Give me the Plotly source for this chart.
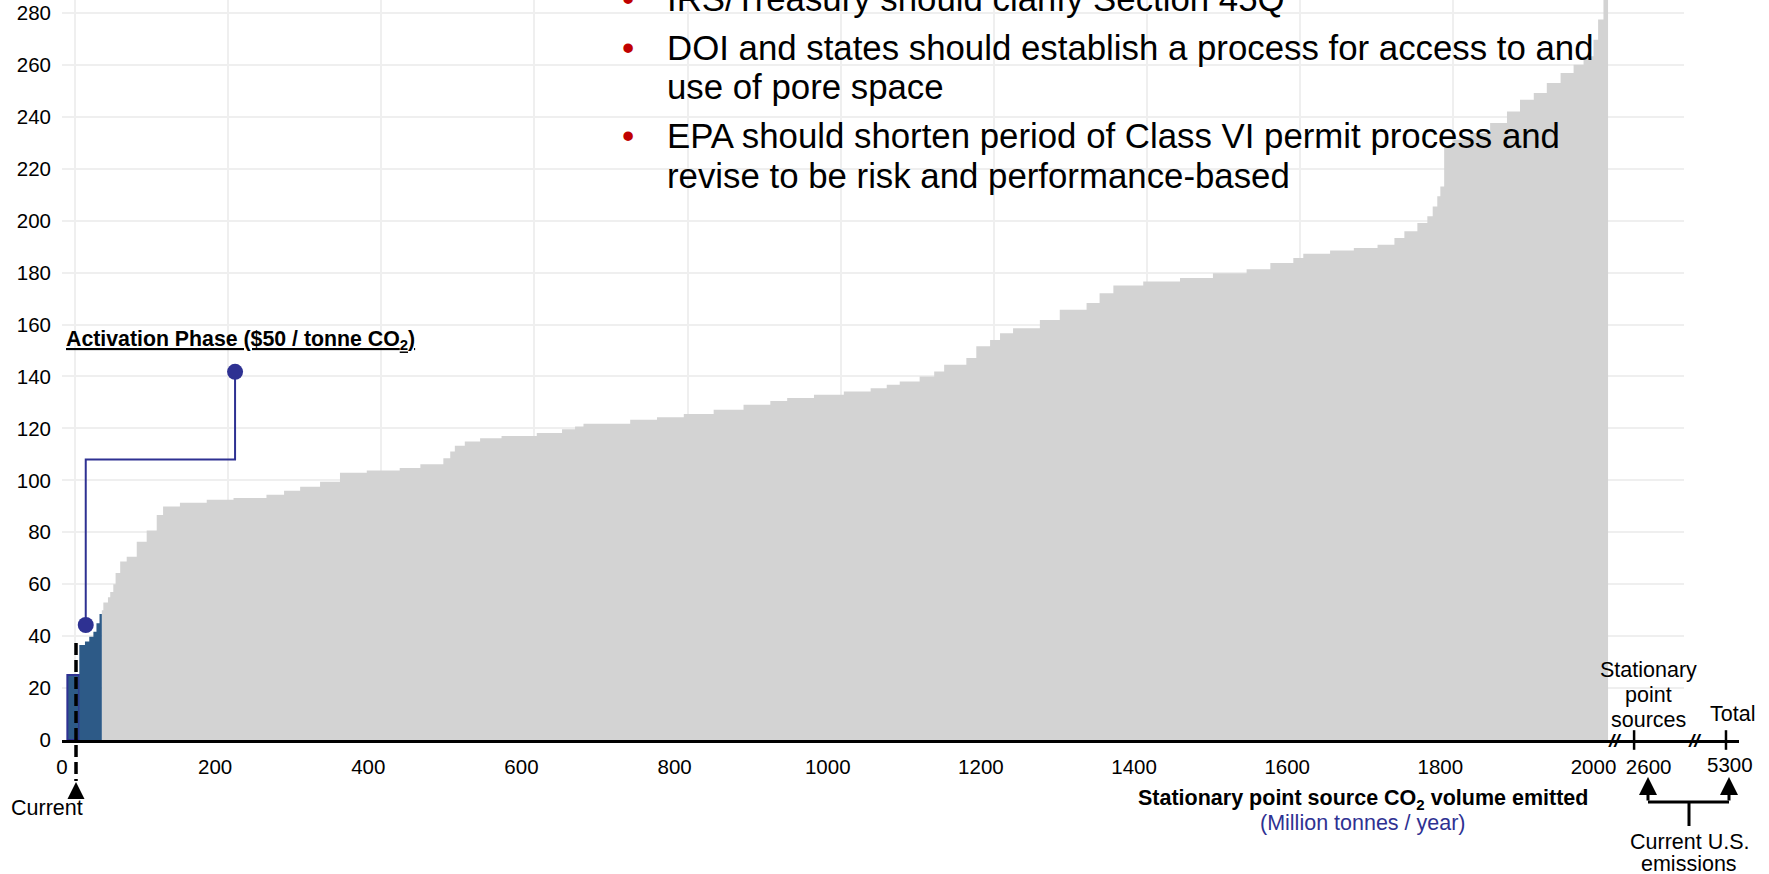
import numpy as np
import plotly.graph_objects as go

# ---------------- data ----------------
# y axis ($ / tonne CO2)
y_tick_vals = [0, 20, 40, 60, 80, 100, 120, 140, 160, 180, 200, 220, 240, 260, 280]

# x axis labels (Mt / yr); 2600 and 5300 sit on the broken, compressed end of the axis
x_tick_text = ["0", "200", "400", "600", "800", "1000", "1200", "1400", "1600", "1800", "2000", "2600"]
x_tick_vals = [0, 200, 400, 600, 800, 1000, 1200, 1400, 1600, 1800, 2000, 2072]
x_end_tick_text = ["5300"]
x_end_tick_vals = [2178]
x_grid_vals = [17, 217, 417, 617, 817, 1017, 1217, 1417, 1617, 1817, 2017]
break_marks_x = [2027, 2132]
break_ticks_x = [2053, 2173]

# cost curve: first source starts at this cumulative volume
curve_start = 7
# activation-phase sources (blue)
blue_volume = [15.6, 7.4, 5.6, 5.4, 4.0, 4.0, 3.0]
blue_cost = [25, 36.6, 37.9, 39.8, 41.7, 45, 48.5]
# remaining stationary point sources (grey)
gray_volume = [2, 6, 3, 4, 3, 6, 8.5, 13.1, 13, 13.1,
               8.3, 22, 35, 35, 43, 23, 21, 26, 26, 35,
               43, 27, 30, 9, 6, 13, 20, 28, 46, 33,
               17, 11, 61, 35, 35, 39, 39, 35, 22, 35,
               39, 35, 21, 17, 26, 19, 13, 29, 13, 18,
               13, 17, 35, 26, 35, 17, 18, 39, 48, 43,
               44, 31, 30, 13, 35, 31, 31, 22, 13, 17,
               13, 7, 6, 4, 5, 12, 22, 26, 22, 17,
               18, 17, 18, 17, 13, 13, 6, 7, 6]
gray_cost = [50, 53, 55, 57, 60, 64.3, 68.7, 70.6, 76.4, 80.7,
             86.7, 89.9, 91.4, 92.5, 93.2, 94.5, 96, 97.5, 99.5, 102.9,
             103.8, 104.8, 106.2, 108.5, 111.1, 113.3, 115, 116.2, 117.1, 118.2,
             119.7, 120.7, 121.8, 123.3, 124.3, 125.6, 127.2, 129.1, 130.6, 131.7,
             133, 134.2, 135.5, 136.8, 138.1, 140, 141.9, 144.5, 147.1, 151.6,
             154.1, 156.7, 158.6, 161.8, 165.7, 168.3, 172.1, 175, 176.6, 177.9,
             179.8, 181.3, 183.7, 185.6, 187.3, 188.5, 189.5, 190.7, 193.3, 195.9,
             199.1, 201.7, 205.5, 209.4, 213.2, 228.6, 231.2, 233.8, 237.6, 242.1,
             246.6, 249.2, 253, 256.9, 260.1, 263.3, 269.7, 277.5, 300]

current_volume = 18.3
current_top_cost = 37.4
activation_x = [31, 226]
activation_y = [44.3, 141.8]
activation_elbow_y = 108

bullets = [
    ["IRS/Treasury should clarify Section 45Q"],
    ["DOI and states should establish a process for access to and", "use of pore space"],
    ["EPA should shorten period of Class VI permit process and", "revise to be risk and performance-based"],
]

# ---------------- geometry / style ----------------
W, H = 1769, 874
ML, MR, MT, MB = 62, 30, 0, 134
X_GRID_END = 2118   # where the gridded plot area ends
X_MAX = 2190        # end of the broken axis line
Y_MAX = 285
FONT = "Liberation Sans, Arial, sans-serif"
NAVY = "#2E3192"
BLUE = "#2D5A87"
GRAY = "#D3D3D3"
RED = "#C00000"
SMALL = 21.5

PW = W - ML - MR
PH = H - MT - MB
DSPLIT = X_GRID_END / X_MAX


def px_x(px):
    return (px - ML) / PW


def px_y(py):
    return (H - MB - py) / PH


assert len(gray_volume) == len(gray_cost)

blue_edges = curve_start + np.concatenate([[0], np.cumsum(blue_volume)])
gray_edges = blue_edges[-1] + np.concatenate([[0], np.cumsum(gray_volume)])

fig = go.Figure()

# grey cost curve
fig.add_trace(go.Scatter(
    x=list(gray_edges), y=gray_cost + [gray_cost[-1]],
    mode="lines", line=dict(shape="hv", width=0, color=GRAY),
    fill="tozeroy", fillcolor=GRAY, hoverinfo="skip"))

# blue (activation) part of the curve
fig.add_trace(go.Scatter(
    x=list(blue_edges[1:]), y=blue_cost[1:] + [blue_cost[-1]],
    mode="lines", line=dict(shape="hv", width=0, color=BLUE),
    fill="tozeroy", fillcolor=BLUE, hoverinfo="skip"))

# first (current) source with navy outline
fig.add_trace(go.Bar(
    x=[(blue_edges[0] + blue_edges[1]) / 2], y=[blue_cost[0]],
    width=[blue_volume[0]], marker=dict(color=BLUE, line=dict(color=NAVY, width=2)),
    hoverinfo="skip"))

# activation phase connector
fig.add_trace(go.Scatter(
    x=[activation_x[0], activation_x[0], activation_x[1], activation_x[1]],
    y=[activation_y[0], activation_elbow_y, activation_elbow_y, activation_y[1]],
    mode="lines", line=dict(color=NAVY, width=2), hoverinfo="skip"))
fig.add_trace(go.Scatter(
    x=activation_x, y=activation_y, mode="markers",
    marker=dict(color=NAVY, size=16), hoverinfo="skip"))

# ticks on the broken part of the axis
fig.add_trace(go.Scatter(
    x=break_ticks_x[:1], y=[0], mode="markers", cliponaxis=False, xaxis="x2",
    marker=dict(symbol="line-ns", size=14, line=dict(color="black", width=2.5)),
    hoverinfo="skip"))
fig.add_trace(go.Scatter(
    x=break_ticks_x[1:], y=[0], mode="markers", cliponaxis=False, xaxis="x3", yaxis="y3",
    marker=dict(symbol="line-ns", size=14, line=dict(color="black", width=2.5)),
    hoverinfo="skip"))

shapes = [
    # current dashed line
    dict(type="line", xref="x", yref="paper", x0=current_volume, x1=current_volume,
         y0=current_top_cost / Y_MAX, y1=px_y(781),
         line=dict(color="black", width=3.5, dash="12px,5px")),
    # bracket for current U.S. emissions
    dict(type="path", xref="paper", yref="paper",
         path=f"M {px_x(1648)} {px_y(802)} L {px_x(1729)} {px_y(802)} "
              f"M {px_x(1689)} {px_y(802)} L {px_x(1689)} {px_y(826)}",
         line=dict(color="black", width=3)),
]

annotations = []
# bullets
line_y = [[-2], [47, 86], [135, 175]]
for lines, ys in zip(bullets, line_y):
    annotations.append(dict(xref="paper", yref="paper", x=px_x(628), y=px_y(ys[0]),
                            text="•", showarrow=False, xanchor="center", yanchor="middle",
                            font=dict(family=FONT, size=35, color=RED)))
    for t, yy in zip(lines, ys):
        annotations.append(dict(xref="paper", yref="paper", x=px_x(665), y=px_y(yy),
                                text=t, showarrow=False, xanchor="left", yanchor="middle",
                                font=dict(family=FONT, size=34.8, color="black")))


def label(px, py, text, size=SMALL, color="black"):
    return dict(xref="paper", yref="paper", x=px_x(px), y=px_y(py), xanchor="center",
                yanchor="middle", text=text, showarrow=False,
                font=dict(family=FONT, size=size, color=color))


annotations += [
    dict(xref="paper", yref="paper", x=px_x(64), y=px_y(340), xanchor="left", yanchor="middle",
         text="<b><u>Activation Phase ($50 / tonne CO<sub>2</sub>)</u></b>", showarrow=False,
         font=dict(family=FONT, size=21.3, color="black")),
    label(1363, 799, "<b>Stationary point source CO<sub>2</sub> volume emitted</b>"),
    label(1363, 823, "(Million tonnes / year)", color=NAVY),
    label(47, 808, "Current"),
    label(1648, 670, "Stationary"),
    label(1648, 695, "point"),
    label(1648, 720, "sources"),
    label(1732, 714, "Total"),
    label(1689, 842, "Current U.S."),
    label(1689, 864, "emissions"),
]
# axis break marks
annotations.append(dict(xref="x", yref="y", x=break_marks_x[0], y=0, text="<b><i>//</i></b>",
                        showarrow=False, xanchor="center", yanchor="middle",
                        font=dict(family=FONT, size=19, color="black")))
annotations.append(dict(xref="x3", yref="y3", x=break_marks_x[1], y=0, text="<b><i>//</i></b>",
                        showarrow=False, xanchor="center", yanchor="middle",
                        font=dict(family=FONT, size=19, color="black")))
# up arrows of the bracket
for ax_px in [1648, 1729]:
    annotations.append(dict(xref="paper", yref="paper", x=px_x(ax_px), y=px_y(777), ax=0, ay=25,
                            text="", showarrow=True, arrowhead=2, arrowsize=1.2,
                            arrowwidth=3, arrowcolor="black"))
# current marker triangle
annotations.append(dict(xref="x", yref="paper", x=current_volume, y=px_y(782), ax=0, ay=16,
                        text="", showarrow=True, arrowhead=2, arrowsize=1,
                        arrowwidth=3.4, arrowcolor="black"))

fig.update_layout(
    width=W, height=H,
    margin=dict(l=ML, r=MR, t=MT, b=MB, autoexpand=False),
    plot_bgcolor="white", paper_bgcolor="white",
    showlegend=False, hovermode=False,
    font=dict(family=FONT, color="black"),
    shapes=shapes, annotations=annotations,
    xaxis=dict(domain=[0, DSPLIT], range=[0, X_GRID_END], tickvals=x_grid_vals,
               showticklabels=False, showgrid=True, gridcolor="#EFEFEF", gridwidth=1.5,
               zeroline=False, showline=True, linecolor="black", linewidth=3, ticks=""),
    xaxis2=dict(range=[0, X_GRID_END], overlaying="x", anchor="y", side="bottom",
                tickvals=x_tick_vals, ticktext=x_tick_text, showgrid=False, zeroline=False,
                showline=False, ticks="", ticklabelstandoff=12,
                tickfont=dict(family=FONT, size=20.5, color="black")),
    xaxis3=dict(domain=[DSPLIT, 1], range=[X_GRID_END, X_MAX], anchor="y3",
                tickvals=x_end_tick_vals, ticktext=x_end_tick_text, showgrid=False,
                zeroline=False, showline=True, linecolor="black", linewidth=3, ticks="",
                ticklabelstandoff=4, tickfont=dict(family=FONT, size=20.5, color="black")),
    yaxis=dict(range=[0, Y_MAX], tickvals=y_tick_vals, showgrid=True, gridcolor="#EFEFEF",
               gridwidth=1.5, zeroline=False, showline=False, ticks="", ticklabelstandoff=10,
               tickfont=dict(family=FONT, size=20.5, color="black")),
    yaxis3=dict(range=[0, Y_MAX], anchor="x3", visible=False, showgrid=False),
)

fig.write_html("out.html", config={"displayModeBar": False},
               post_script="document.body.style.margin='0';document.body.style.overflow='hidden';")
